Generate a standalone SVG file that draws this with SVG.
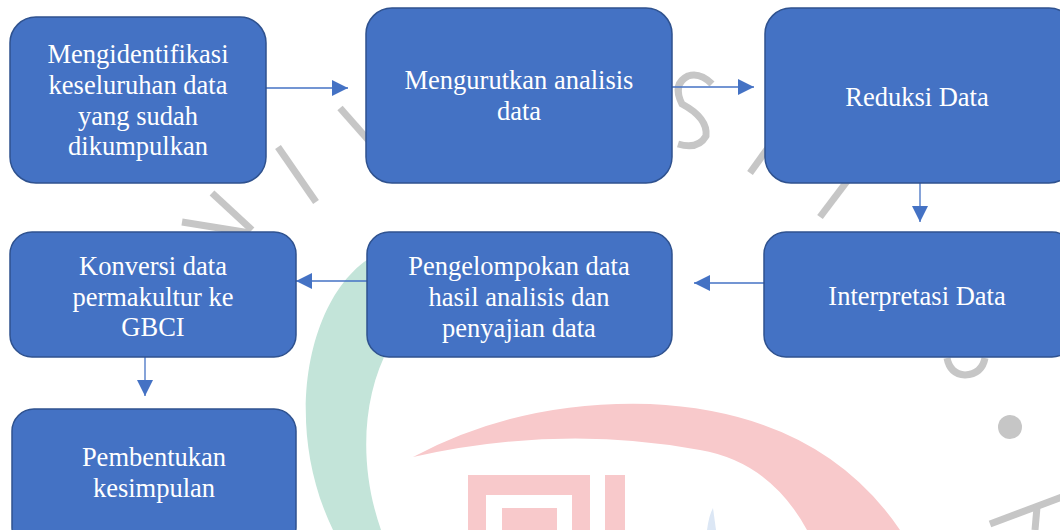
<svg xmlns="http://www.w3.org/2000/svg" width="1060" height="530" viewBox="0 0 1060 530">
<style>
.box{fill:#4472C4;stroke:#2F528F;stroke-width:1.5}
.lbl{font-family:"Liberation Serif","Times New Roman",serif;font-size:26.5px;fill:#FFFFFF;text-anchor:middle}
.con{stroke:#4472C4;stroke-width:1.3;fill:none}
.wm{stroke:#C6C6C6;stroke-width:7;fill:none}
</style>
<defs>
<marker id="ah" markerUnits="userSpaceOnUse" markerWidth="16" markerHeight="16" refX="16" refY="8" orient="auto">
<path d="M0,0 L16,8 L0,16 Z" fill="#4472C4"/>
</marker>
</defs>
<rect width="1060" height="530" fill="#FFFFFF"/>
<g id="watermark">
<path d="M375,255 C310,290 280,420 333,530 L381,530 C360,470 360,400 390,345 C400,320 395,280 375,255 Z" fill="#C3E4D9"/>
<path d="M413,457 Q520,400 650,404 Q820,412 900,530 L807,530 Q770,462 700,450 Q560,424 413,457 Z" fill="#F8C9CB"/>
<path d="M468,530 L468,475 L590,475 L590,530 L572,530 L572,495 L486,495 L486,530 Z" fill="#F8C9CB"/>
<rect x="502" y="508" width="55" height="22" fill="#F8C9CB"/>
<rect x="605" y="475" width="20" height="55" fill="#F8C9CB"/>
<path d="M707,530 Q709,515 713,508 L716,530 Z" fill="#DCE7F5"/>
<line class="wm" x1="212" y1="193" x2="252" y2="230"/>
<line class="wm" x1="182" y1="222" x2="250" y2="233"/>
<line class="wm" x1="278" y1="147" x2="316" y2="202"/>
<line class="wm" x1="340" y1="108" x2="370" y2="142"/>
<path class="wm" d="M712,84 Q700,72 688,76 Q672,84 682,104 Q708,118 706,136 Q698,150 678,144"/>
<line class="wm" x1="750" y1="173" x2="768" y2="148"/>
<line class="wm" x1="820" y1="217" x2="848" y2="180"/>
<path class="wm" d="M947,358 Q950,374 965,375 Q982,374 985,358"/>
<circle cx="1010" cy="427" r="12" fill="#C6C6C6"/>
<line class="wm" x1="990" y1="524" x2="1062" y2="497"/>
<line class="wm" x1="1037" y1="507" x2="1035" y2="530"/>
</g>
<g id="connectors">
<line class="con" x1="266" y1="88" x2="348" y2="88" marker-end="url(#ah)"/>
<line class="con" x1="672" y1="87" x2="754" y2="87" marker-end="url(#ah)"/>
<line class="con" x1="920" y1="183" x2="920" y2="222" marker-end="url(#ah)"/>
<line class="con" x1="764" y1="283" x2="694" y2="283" marker-end="url(#ah)"/>
<line class="con" x1="367" y1="281" x2="296" y2="281" marker-end="url(#ah)"/>
<line class="con" x1="145" y1="357" x2="145" y2="396" marker-end="url(#ah)"/>
</g>
<g id="n1">
<rect class="box" x="10" y="17" width="256" height="166" rx="26"/>
<text class="lbl" x="138" y="63">Mengidentifikasi</text>
<text class="lbl" x="138" y="94">keseluruhan data</text>
<text class="lbl" x="138" y="125">yang sudah</text>
<text class="lbl" x="138" y="155">dikumpulkan</text>
</g>
<g id="n2">
<rect class="box" x="366" y="8" width="306" height="175" rx="26"/>
<text class="lbl" x="519" y="89">Mengurutkan analisis</text>
<text class="lbl" x="519" y="120">data</text>
</g>
<g id="n3">
<rect class="box" x="765" y="8" width="310" height="175" rx="26"/>
<text class="lbl" x="917" y="106">Reduksi Data</text>
</g>
<g id="n4">
<rect class="box" x="764" y="232" width="310" height="125" rx="22"/>
<text class="lbl" x="917" y="305">Interpretasi Data</text>
</g>
<g id="n5">
<rect class="box" x="367" y="232" width="305" height="125" rx="22"/>
<text class="lbl" x="519" y="275">Pengelompokan data</text>
<text class="lbl" x="519" y="306">hasil analisis dan</text>
<text class="lbl" x="519" y="337">penyajian data</text>
</g>
<g id="n6">
<rect class="box" x="10" y="232" width="286" height="125" rx="22"/>
<text class="lbl" x="153" y="275">Konversi data</text>
<text class="lbl" x="153" y="306">permakultur ke</text>
<text class="lbl" x="153" y="336">GBCI</text>
</g>
<g id="n7">
<rect class="box" x="12" y="409" width="284" height="140" rx="22"/>
<text class="lbl" x="154" y="466">Pembentukan</text>
<text class="lbl" x="154" y="497">kesimpulan</text>
</g>
</svg>
